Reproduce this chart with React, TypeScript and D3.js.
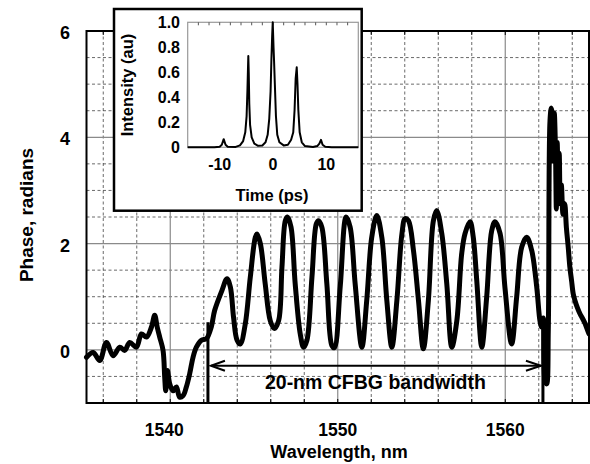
import React from "react";
import * as d3 from "d3";

// ---------- Main chart data (phase vs wavelength) ----------
const wavelengthNm = [
  1535.0, 1535.4, 1535.79, 1536.19, 1536.59, 1536.99, 1537.28, 1537.58, 1537.98, 1538.28,
  1538.58, 1538.88, 1539.07, 1539.22, 1539.37, 1539.57, 1539.67, 1539.73, 1539.83, 1539.97,
  1540.17, 1540.37, 1540.56, 1540.77, 1540.96, 1541.16, 1541.36, 1541.56, 1541.86, 1542.16,
  1542.45, 1542.65, 1543.09, 1543.39, 1543.59, 1543.78, 1543.99, 1544.18, 1544.48, 1544.78,
  1545.08, 1545.18, 1545.38, 1545.67, 1545.97, 1546.21, 1546.47, 1546.67, 1546.87, 1547.0,
  1547.21, 1547.46, 1547.76, 1547.96, 1548.16, 1548.46, 1548.72, 1548.85, 1549.05, 1549.35,
  1549.65, 1549.8, 1550.15, 1550.5, 1550.74, 1551.04, 1551.44, 1551.73, 1552.03, 1552.33,
  1552.63, 1552.93, 1553.23, 1553.53, 1553.83, 1554.02, 1554.22, 1554.52, 1554.82, 1555.11,
  1555.41, 1555.71, 1555.91, 1556.21, 1556.51, 1556.81, 1557.11, 1557.4, 1557.6, 1557.9,
  1558.09, 1558.3, 1558.6, 1558.89, 1559.19, 1559.39, 1559.69, 1559.98, 1560.38, 1560.68,
  1560.98, 1561.28, 1561.58, 1561.88, 1562.07, 1562.17, 1562.27, 1562.37, 1562.47, 1562.57,
  1562.67, 1562.75, 1562.83, 1562.88, 1562.93, 1563.0, 1563.05, 1563.1, 1563.16, 1563.22,
  1563.28, 1563.35, 1563.45, 1563.55, 1563.65, 1563.76, 1563.86, 1563.96, 1564.06, 1564.16,
  1564.3, 1564.46, 1564.6, 1564.76, 1564.88, 1565.0,
];
const phaseRad = [
  -0.14, -0.05, -0.2, 0.14, -0.11, 0.05, -0.01, 0.14, 0.05, 0.3,
  0.24, 0.43, 0.65, 0.43, 0.24, -0.01, -0.52, -0.77, -0.39, -0.64,
  -0.77, -0.7, -0.89, -0.86, -0.7, -0.45, -0.14, 0.05, 0.18, 0.21,
  0.43, 0.74, 1.12, 1.34, 1.18, 0.61, 0.18, 0.11, 0.49, 1.37,
  2.12, 2.18, 2.0, 1.24, 0.55, 0.4, 0.55, 1.56, 2.43, 2.5,
  2.31, 1.24, 0.3, 0.05, 0.18, 1.37, 2.37, 2.43, 2.31, 1.24,
  0.08, 0.04, 1.2, 2.5, 2.31, 1.24, 0.05, 0.93, 2.12, 2.53,
  2.12, 0.93, 0.05, 0.93, 2.18, 2.47, 2.43, 1.87, 0.93, 0.02,
  0.93, 2.43, 2.62, 2.19, 1.24, 0.05, 0.55, 1.81, 2.19, 2.41,
  2.12, 1.3, 0.05, 0.99, 2.24, 2.41, 2.19, 1.18, 0.11, 0.99,
  1.93, 2.12, 1.87, 1.18, 0.55, 0.43, 0.6, -0.58, -0.64, 0.37,
  4.3, 4.55, 4.4, 3.55, 4.45, 3.75, 2.65, 3.9, 3.35, 3.7,
  2.75, 3.1, 2.55, 2.75, 2.3, 1.93, 1.55, 1.3, 1.05, 0.93,
  0.8, 0.68, 0.6, 0.5, 0.4, 0.3,
];
const xTickValues = [1540, 1550, 1560];
const yTickValues = [0, 2, 4, 6];
const bandEdgesNm = [1542.25, 1562.25];
const bandLabel = "20-nm CFBG bandwidth";

// ---------- Inset data (intensity vs time) ----------
const timePs = [
  -16, -11, -10, -9.6, -9.25, -8.9, -8.5, -7, -6.2, -5.6,
  -5.2, -4.95, -4.8, -4.7, -4.63, -4.55, -4.45, -4.3, -4.0, -3.5,
  -2.8, -2.0, -1.4, -1.0, -0.7, -0.45, -0.3, -0.15, -0.05, 0.1,
  0.2, 0.35, 0.55, 0.8, 1.2, 2.0, 2.8, 3.4, 3.8, 4.05,
  4.25, 4.45, 4.6, 4.75, 5.0, 5.4, 6.0, 7.5, 8.3, 8.7,
  9.0, 9.3, 9.8, 11, 16,
];
const intensityAu = [
  0, 0, 0.005, 0.02, 0.065, 0.02, 0.005, 0.003, 0.015, 0.05,
  0.12, 0.25, 0.45, 0.62, 0.73, 0.6, 0.35, 0.18, 0.08, 0.03,
  0.012, 0.015, 0.04, 0.1, 0.23, 0.45, 0.7, 0.9, 1.0, 0.8,
  0.69, 0.5, 0.25, 0.1, 0.04, 0.015, 0.02, 0.06, 0.12, 0.3,
  0.55, 0.64, 0.5, 0.3, 0.12, 0.04, 0.01, 0.003, 0.01, 0.03,
  0.06, 0.02, 0.004, 0, 0,
];
const insetXTickValues = [-10, 0, 10];
const insetYTickValues = [0, 0.2, 0.4, 0.6, 0.8, 1.0];

const FONT = "'Liberation Sans', Arial, Helvetica, sans-serif";

export default function App() {
  // main scales
  const x = d3.scaleLinear().domain([1535, 1565]).range([86.5, 589]);
  const y = d3.scaleLinear().domain([-1, 6]).range([403, 31]);
  const [x0, x1] = x.range();
  const [yb, yt] = y.range();

  const minorX = d3.range(1536, 1565, 2).filter((v) => v % 10 !== 0);
  const minorY = d3.range(-0.5, 6, 0.5).filter((v) => v % 2 !== 0);
  const majorY = [0, 2, 4];

  const mainLine = d3
    .line<number>()
    .x((_, i) => x(wavelengthNm[i]))
    .y((d) => y(d))
    .curve(d3.curveCatmullRom.alpha(0.5));

  // inset scales
  const ix = d3.scaleLinear().domain([-16, 16]).range([187.7, 358.3]);
  const iy = d3.scaleLinear().domain([0, 1]).range([147.3, 22.3]);
  const insetLine = d3
    .line<number>()
    .x((_, i) => ix(timePs[i]))
    .y((d) => iy(d));
  const insetMinor = d3.range(-14, 16, 2);

  const arrowY = y(-0.3);
  const bandL = x(bandEdgesNm[0]);
  const bandR = x(bandEdgesNm[1]);

  return (
    <svg
      width={590}
      height={464}
      style={{ position: "absolute", left: 0, top: 0, background: "#fff" }}
      fontFamily={FONT}
      fontWeight="bold"
    >
      <rect x={0} y={0} width={590} height={464} fill="#fff" />
      {/* minor dashed grid */}
      <g stroke="#444" strokeWidth={0.8} strokeDasharray="3,2.5">
        {minorX.map((v) => (
          <line key={"mx" + v} x1={x(v)} x2={x(v)} y1={yt} y2={yb} />
        ))}
        {minorY.map((v) => (
          <line key={"my" + v} x1={x0} x2={x1} y1={y(v)} y2={y(v)} />
        ))}
      </g>
      {/* major solid grid */}
      <g stroke="#8a8a8a" strokeWidth={1.2}>
        {xTickValues.map((v) => (
          <line key={"Mx" + v} x1={x(v)} x2={x(v)} y1={yt} y2={yb} />
        ))}
        {majorY.map((v) => (
          <line key={"My" + v} x1={x0} x2={x1} y1={y(v)} y2={y(v)} />
        ))}
      </g>
      {/* small ticks on frame */}
      <g stroke="#000" strokeWidth={1}>
        {minorX.concat(xTickValues).map((v) => (
          <g key={"tk" + v}>
            <line x1={x(v)} x2={x(v)} y1={yt} y2={yt + 4} />
            <line x1={x(v)} x2={x(v)} y1={yb} y2={yb - 4} />
          </g>
        ))}
      </g>

      {/* main curve */}
      <path
        d={mainLine(phaseRad) || ""}
        fill="none"
        stroke="#000"
        strokeWidth={5}
        strokeLinejoin="round"
        strokeLinecap="round"
      />

      {/* frame */}
      <rect x={x0} y={yt} width={x1 - x0} height={yb - yt} fill="none" stroke="#000" strokeWidth={2} />

      {/* bandwidth annotation */}
      <g stroke="#000" fill="none">
        <line x1={bandL} x2={bandL} y1={y(0.52)} y2={yb} strokeWidth={3} />
        <line x1={bandR} x2={bandR} y1={y(0.55)} y2={yb} strokeWidth={3} />
        <line x1={bandL + 3} x2={bandR - 2} y1={arrowY} y2={arrowY} strokeWidth={2} />
        <path d={`M${bandL + 17},${arrowY - 5} L${bandL + 3},${arrowY} L${bandL + 17},${arrowY + 5}`} strokeWidth={2} />
        <path d={`M${bandR - 17},${arrowY - 5} L${bandR - 2},${arrowY} L${bandR - 17},${arrowY + 5}`} strokeWidth={2} />
      </g>
      <text
        x={(bandL + bandR) / 2}
        y={y(-0.73)}
        textAnchor="middle"
        fontSize={19.5}
        fill="#000"
      >
        {bandLabel}
      </text>

      {/* main tick labels */}
      {yTickValues.map((v) => (
        <text key={"yl" + v} x={70} y={y(v) + 8} textAnchor="end" fontSize={18} fill="#000">
          {v}
        </text>
      ))}
      {xTickValues.map((v, i) => (
        <text
          key={"xl" + v}
          x={x(v) - (i === 0 ? 6 : 0)}
          y={436}
          textAnchor="middle"
          fontSize={17.5}
          fill="#000"
        >
          {v}
        </text>
      ))}
      <text x={339} y={458} textAnchor="middle" fontSize={18} fill="#000">
        Wavelength, nm
      </text>
      <text
        transform={`translate(33,215) rotate(-90)`}
        textAnchor="middle"
        fontSize={19}
        fill="#000"
      >
        Phase, radians
      </text>

      {/* inset */}
      <rect x={114} y={9} width={247.7} height={201.7} fill="#fff" stroke="#000" strokeWidth={2.5} />
      <rect
        x={ix.range()[0]}
        y={iy.range()[1]}
        width={ix.range()[1] - ix.range()[0]}
        height={iy.range()[0] - iy.range()[1]}
        fill="none"
        stroke="#999"
        strokeWidth={1.2}
      />
      <g stroke="#555" strokeWidth={1}>
        {insetMinor.map((v) => (
          <line key={"it" + v} x1={ix(v)} x2={ix(v)} y1={iy(1)} y2={iy(1) + 3} />
        ))}
      </g>
      <path
        d={insetLine(intensityAu) || ""}
        fill="none"
        stroke="#000"
        strokeWidth={2}
        strokeLinejoin="round"
      />
      {insetYTickValues.map((v) => (
        <text key={"iyl" + v} x={180} y={iy(v) + 6} textAnchor="end" fontSize={16} fill="#000">
          {v === 0 ? "0" : v.toFixed(1)}
        </text>
      ))}
      {insetXTickValues.map((v) => (
        <text key={"ixl" + v} x={ix(v)} y={170} textAnchor="middle" fontSize={16} fill="#000">
          {v}
        </text>
      ))}
      <text x={272} y={201} textAnchor="middle" fontSize={16.5} fill="#000">
        Time (ps)
      </text>
      <text
        transform={`translate(133,85) rotate(-90)`}
        textAnchor="middle"
        fontSize={16.5}
        fill="#000"
      >
        Intensity (au)
      </text>
    </svg>
  );
}
